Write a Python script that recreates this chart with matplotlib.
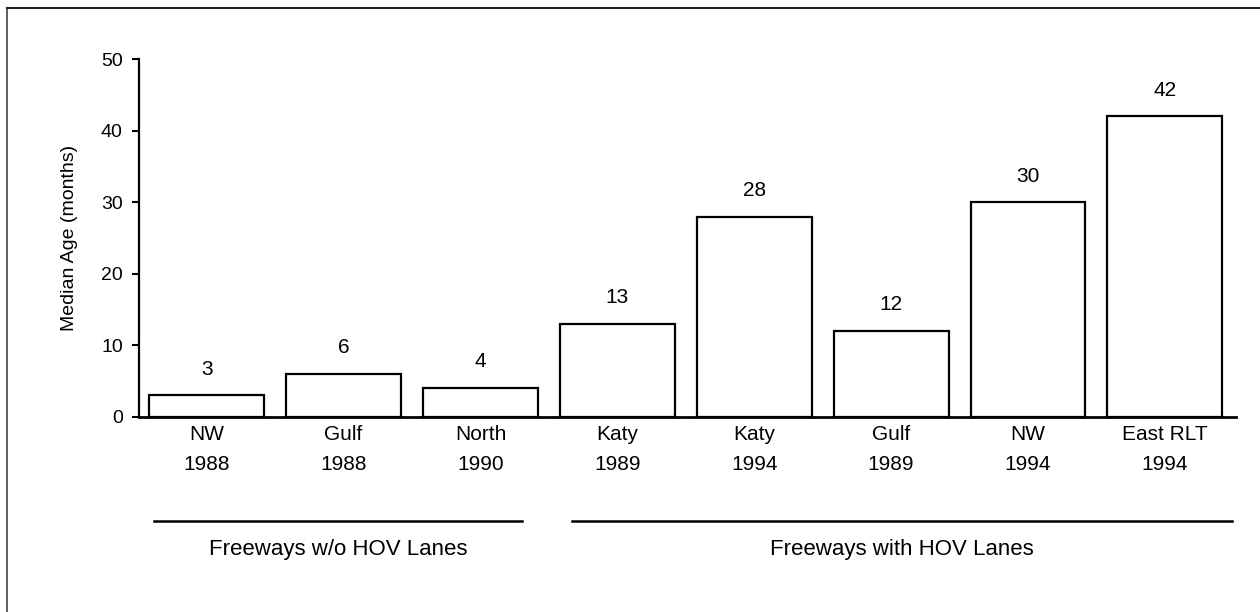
import matplotlib
matplotlib.use("Agg")
import matplotlib.pyplot as plt
from matplotlib.lines import Line2D
import matplotlib.transforms as mtransforms

plt.rcParams['font.family'] = ['Liberation Sans', 'DejaVu Sans']

# Data
corridors = ["NW", "Gulf", "North", "Katy", "Katy", "Gulf", "NW", "East RLT"]
years = ["1988", "1988", "1990", "1989", "1994", "1989", "1994", "1994"]
median_age = [3, 6, 4, 13, 28, 12, 30, 42]
group_names = ["Freeways w/o HOV Lanes", "Freeways with HOV Lanes"]
group_spans = [(-0.385, 2.303), (2.67, 7.49)]  # extents of group underline in bar-index units

fig = plt.figure(figsize=(12.6, 6.12), dpi=100)
ax = fig.add_axes([0.1107, 0.3191, 0.981 - 0.1107, 0.9031 - 0.3191])

x = list(range(len(median_age)))
bars = ax.bar(x, median_age, width=0.84, color="white", edgecolor="black", linewidth=1.6, zorder=2)

for xi, v in zip(x, median_age):
    ax.annotate(str(v), (xi, v), xytext=(0, 12), textcoords="offset points",
                ha="center", va="bottom", fontsize=15)

ax.set_xlim(-0.491, 7.52)
ax.set_ylim(0, 50)
ax.set_yticks([0, 10, 20, 30, 40, 50])
ax.tick_params(axis="y", direction="out", length=5, width=1.5, labelsize=14, pad=7)
ax.set_xticks(x)
ax.set_xticklabels([f"{c}\n{y}" for c, y in zip(corridors, years)], fontsize=15, linespacing=1.75)
ax.tick_params(axis="x", length=0, pad=6)

for s in ["top", "right"]:
    ax.spines[s].set_visible(False)
ax.spines["left"].set_linewidth(1.6)
ax.spines["bottom"].set_linewidth(2.0)

ax.set_ylabel("Median Age (months)", fontsize=14)
ax.yaxis.label.set_va("center")
ax.yaxis.set_label_coords(-0.0634, 0.5)

trans = mtransforms.blended_transform_factory(ax.transData, ax.transAxes)
for name, (x0, x1) in zip(group_names, group_spans):
    ax.add_line(Line2D([x0, x1], [-0.293, -0.293], transform=trans, color="black",
                       linewidth=1.8, clip_on=False))
    ax.text((x0 + x1) / 2, -0.372, name, transform=trans, ha="center", va="center",
            fontsize=16)

# Figure frame (left and top edges visible, cropped at right/bottom)
fx, fy = 7 / 1260, 1 - 7.5 / 612
fig.add_artist(Line2D([fx, fx], [0, fy], transform=fig.transFigure, color="#444444", linewidth=1.2))
fig.add_artist(Line2D([fx, 1], [fy, fy], transform=fig.transFigure, color="#222222", linewidth=1.5))

fig.savefig("out.png", dpi=100)
